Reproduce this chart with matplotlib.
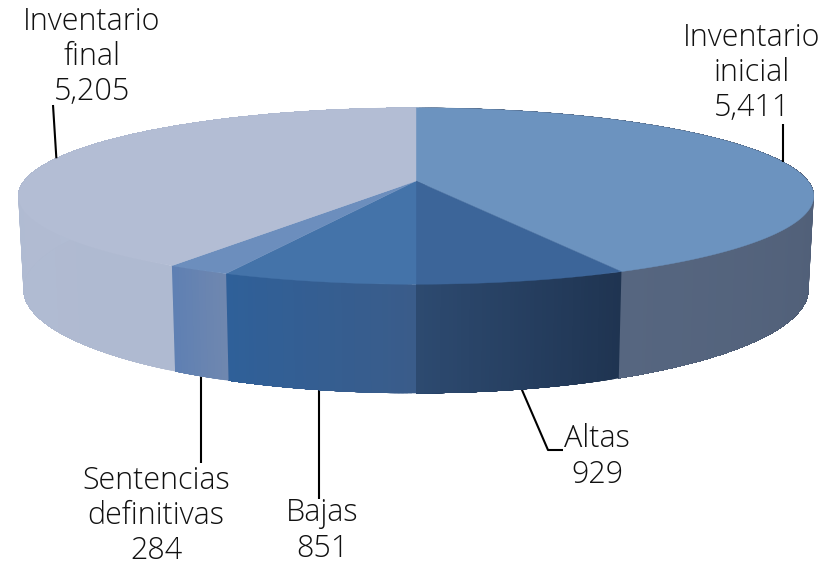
#!/usr/bin/env python3
import numpy as np
import matplotlib
matplotlib.use('Agg')
import matplotlib.pyplot as plt
from matplotlib.colors import to_rgb
from matplotlib.patches import Polygon

# Pie values
labels = ['Inventario\ninicial', 'Altas', 'Bajas', 'Sentencias\ndefinitivas', 'Inventario\nfinal']
values = [5411, 929, 851, 284, 5205]

top_colors = ['#6C93BF', '#3C6599', '#4473A9', '#6C8EBD', '#B3BDD4']
# side wall colours, start and end of each slice (clockwise)
side_colors = [('#465268', '#566680'), ('#1F3451', '#2D4A70'), ('#3A5C8A', '#2F6099'),
               ('#6F87AF', '#5F80B3'), ('#AFBAD1', '#B3BDD4')]

# label box centre, and where its leader line ends (None keeps the line vertical)
label_pos = [(752, 73), (597, 457), (322, 531), (156, 516), (92, 57)]
leader_ends = [[(None, 124)], [(548, 450), (563, 450)], [(None, 499)], [(None, 463)], [(53, 105)]]

# geometry of the projected pie, pixels
cx, cy = 416, 181
rx, ry = 392, 85.7
persp = 0.17
depth = 90.5


def project(theta, bottom=False):
    # theta clockwise from the back of the pie, degrees
    t = np.radians(theta)
    X, Y = np.sin(t), np.cos(t)
    w = 1 + persp * Y
    if bottom:
        return cx + 0.987 * rx * X / w, cy - ry * Y / w + depth / w
    return cx + rx * X / w, cy - ry * Y / w


fig = plt.figure(figsize=(8.23, 5.67), dpi=100)
ax = fig.add_axes([0, 0, 1, 1])
ax.set_xlim(0, 823)
ax.set_ylim(567, 0)
ax.axis('off')

edges = np.concatenate([[0], np.cumsum(values)]) / sum(values) * 360

# side walls first, as strips painted over each other so no seams show
for i in range(len(values)):
    a0, a1 = edges[i], edges[i + 1]
    n = max(int((a1 - a0) * 2), 2)
    steps = np.linspace(a0, a1, n + 1)
    c0, c1 = np.array(to_rgb(side_colors[i][0])), np.array(to_rgb(side_colors[i][1]))
    for j in range(n):
        f = j / max(n - 1, 1)
        col = c0 + (c1 - c0) * f
        # each strip runs on to the end of the slice, the next one covers it
        th = np.linspace(steps[j], a1, max(n - j, 2) + 1)
        xt, yt = project(th)
        xb, yb = project(th, bottom=True)
        pts = np.column_stack([np.r_[xt, xb[::-1]], np.r_[yt, yb[::-1]]])
        ax.add_patch(Polygon(pts, closed=True, fc=col, ec='none', zorder=2))

# top face
for i in range(len(values)):
    th = np.linspace(edges[i], edges[i + 1], 200)
    xt, yt = project(th)
    pts = np.column_stack([np.r_[cx, xt], np.r_[cy, yt]])
    ax.add_patch(Polygon(pts, closed=True, fc=top_colors[i], ec=top_colors[i], lw=0.3, zorder=3))

# leader lines start at the middle of each slice
for i in range(len(values)):
    mid = (edges[i] + edges[i + 1]) / 2
    front = np.cos(np.radians(mid)) < 0
    x0, y0 = project(mid, bottom=front)
    xs = [x0] + [x0 if p[0] is None else p[0] for p in leader_ends[i]]
    ys = [y0] + [p[1] for p in leader_ends[i]]
    ax.plot(xs, ys, color='black', lw=1.5, zorder=1 if front else 4, solid_capstyle='butt')

for i in range(len(values)):
    ax.text(label_pos[i][0], label_pos[i][1], f'{labels[i]}\n{values[i]:,}', ha='center', va='center',
            family='Open Sans', weight='light', fontsize=22, color='#111111', linespacing=1.13, zorder=5)

fig.savefig('out.png', dpi=100)
